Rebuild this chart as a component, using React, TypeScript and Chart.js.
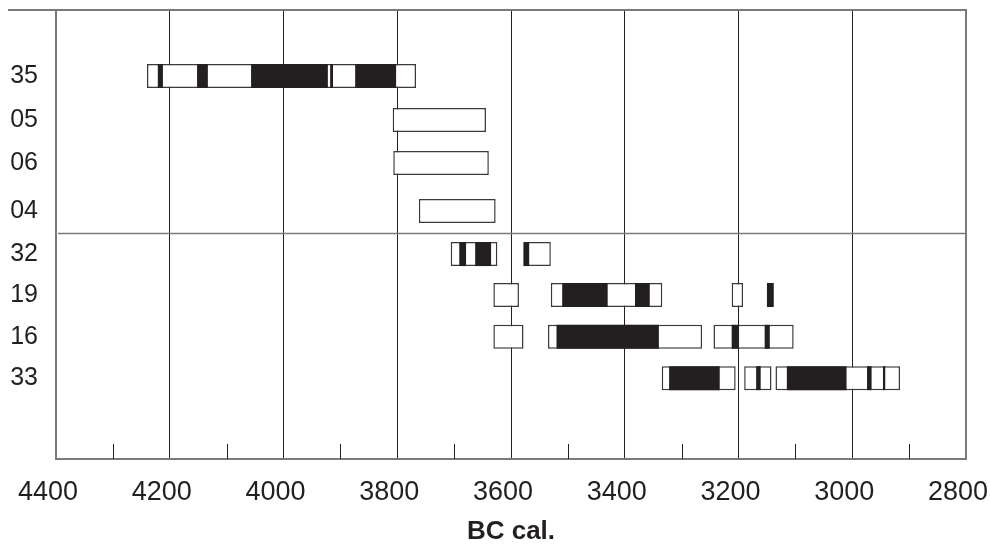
import { useEffect, useRef } from 'react';
import { Chart, registerables } from 'chart.js';

Chart.register(...registerables);

// Sample rows (top to bottom) and their vertical positions on the y scale
const rowLabels = ['35', '05', '06', '04', '32', '19', '16', '33'];
const rowPositions = [1, 2.04, 3.06, 4.2, 5.22, 6.19, 7.18, 8.16];
const separatorPosition = 4.72;

// x axis (BC cal.)
const xMin = 2800;
const xMax = 4400;
const xStep = 100;
const xLabelStep = 200;

// Calibrated ranges (white boxes): [row, from, to]
const rangeBoxes: [string, number, number][] = [
  ['35', 4240, 3767],
  ['05', 3808, 3644],
  ['06', 3807, 3639],
  ['04', 3762, 3627],
  ['32', 3706, 3624],
  ['32', 3578, 3530],
  ['19', 3631, 3586],
  ['19', 3530, 3334],
  ['19', 3212, 3192],
  ['16', 3631, 3578],
  ['16', 3535, 3264],
  ['16', 3244, 3103],
  ['33', 3335, 3205],
  ['33', 3190, 3142],
  ['33', 3135, 2916],
];

// High-probability ranges (black segments): [row, from, to]
const peakRanges: [string, number, number][] = [
  ['35', 4221, 4212],
  ['35', 4152, 4133],
  ['35', 4057, 3922],
  ['35', 3918, 3913],
  ['35', 3874, 3802],
  ['32', 3691, 3679],
  ['32', 3663, 3635],
  ['32', 3578, 3568],
  ['19', 3510, 3430],
  ['19', 3382, 3356],
  ['19', 3150, 3138],
  ['16', 3520, 3340],
  ['16', 3212, 3199],
  ['16', 3154, 3145],
  ['33', 3322, 3233],
  ['33', 3169, 3161],
  ['33', 3115, 3010],
  ['33', 2974, 2966],
  ['33', 2946, 2942],
];

const axisGray = '#7a7a7a';
const ink = '#231f20';

const toPoints = (list: [string, number, number][]) =>
  list.map(([row, from, to]) => ({ x: [from, to], y: rowPositions[rowLabels.indexOf(row)] }));

const decorPlugin = {
  id: 'decor',
  afterDraw(chart: any) {
    const { ctx, chartArea, scales } = chart;
    const xs = scales.x;
    const ys = scales.y;
    ctx.save();
    // top frame line (extends left past the axis)
    ctx.strokeStyle = axisGray;
    ctx.lineWidth = 2;
    ctx.beginPath();
    ctx.moveTo(8, chartArea.top);
    ctx.lineTo(chartArea.right + 1, chartArea.top);
    ctx.stroke();
    // separator line
    const sy = Math.round(ys.getPixelForValue(separatorPosition)) + 0.5;
    ctx.lineWidth = 1.5;
    ctx.beginPath();
    ctx.moveTo(chartArea.left + 2, sy);
    ctx.lineTo(chartArea.right, sy);
    ctx.stroke();
    // minor ticks inside the plot
    ctx.strokeStyle = ink;
    ctx.lineWidth = 1;
    xs.ticks.forEach((t: any) => {
      if (t.value % xLabelStep !== 0) {
        const px = Math.round(xs.getPixelForValue(t.value)) + 0.5;
        ctx.beginPath();
        ctx.moveTo(px, chartArea.bottom - 15);
        ctx.lineTo(px, chartArea.bottom);
        ctx.stroke();
      }
    });
    ctx.restore();
  },
};

export default function App() {
  const ref = useRef<HTMLCanvasElement>(null);

  useEffect(() => {
    if (!ref.current) return;
    const chart = new Chart(ref.current, {
      type: 'bar',
      data: {
        datasets: [
          {
            label: 'peak',
            data: toPoints(peakRanges) as any,
            backgroundColor: ink,
            borderWidth: 0,
            grouped: false,
            barThickness: 24,
            inflateAmount: 0,
            order: 0,
          } as any,
          {
            label: 'range',
            data: toPoints(rangeBoxes) as any,
            backgroundColor: '#ffffff',
            borderColor: '#3a3a3a',
            borderWidth: 1.5,
            borderSkipped: false,
            grouped: false,
            barThickness: 24,
            inflateAmount: 0,
            order: 1,
          } as any,
        ],
      },
      options: {
        indexAxis: 'y',
        responsive: false,
        animation: false,
        devicePixelRatio: 1,
        layout: { padding: { left: 0, right: 24, top: 10, bottom: 0 } },
        plugins: {
          legend: { display: false },
          tooltip: { enabled: false },
        },
        scales: {
          x: {
            type: 'linear',
            reverse: true,
            min: xMin,
            max: xMax,
            offset: false,
            grid: {
              drawTicks: false,
              color: (c: any) => {
                const v = c.tick?.value;
                if (v === xMin) return axisGray;
                if (v === xMax) return 'rgba(0,0,0,0)';
                return v % xLabelStep === 0 ? ink : 'rgba(0,0,0,0)';
              },
              lineWidth: (c: any) => (c.tick?.value === xMin ? 2 : 1),
            },
            border: { display: true, color: axisGray, width: 2 },
            ticks: {
              stepSize: xStep,
              autoSkip: false,
              maxRotation: 0,
              padding: 17,
              labelOffset: -8,
              color: ink,
              font: { family: '"Liberation Sans", Arial, sans-serif', size: 27 },
              callback: (v: any) => (Number(v) % xLabelStep === 0 ? String(v) : ''),
            },
            title: {
              display: true,
              text: 'BC cal.',
              color: ink,
              font: { family: '"Liberation Sans", Arial, sans-serif', size: 26, weight: 'bold' },
              padding: { top: 0, bottom: -3 },
            },
            afterFit: (s: any) => {
              s.height = 85;
              s.paddingLeft = 0;
              s.paddingRight = 0;
            },
          },
          y: {
            type: 'linear',
            reverse: true,
            offset: false,
            min: -0.564,
            max: 10.076,
            grid: { display: false, drawTicks: false, offset: false },
            border: { display: true, color: axisGray, width: 2 },
            afterBuildTicks: (s: any) => {
              s.ticks = rowPositions.map((v) => ({ value: v }));
            },
            ticks: {
              autoSkip: false,
              padding: 18,
              color: ink,
              font: { family: '"Liberation Sans", Arial, sans-serif', size: 25 },
              callback: (v: any) => {
                const i = rowPositions.indexOf(Number(v));
                return i >= 0 ? rowLabels[i] : '';
              },
            },
            afterFit: (s: any) => {
              s.width = 56;
              s.paddingTop = 0;
              s.paddingBottom = 0;
            },
          },
        },
      } as any,
      plugins: [decorPlugin],
    });
    return () => chart.destroy();
  }, []);

  return (
    <div style={{ position: 'absolute', left: 0, top: 0, width: 990, height: 544, background: '#fff' }}>
      <canvas ref={ref} width={990} height={544} style={{ display: 'block' }} />
    </div>
  );
}
